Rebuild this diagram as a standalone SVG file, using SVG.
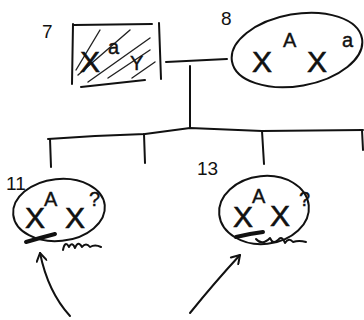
<svg xmlns="http://www.w3.org/2000/svg" width="364" height="320" viewBox="0 0 364 320">
  <style>
    .ln { fill: none; stroke: #111; stroke-width: 2; stroke-linecap: round; stroke-linejoin: round; }
    .thin { fill: none; stroke: #222; stroke-width: 1.4; stroke-linecap: round; }
    .scrib { fill: none; stroke: #111; stroke-width: 2; stroke-linecap: round; stroke-linejoin: round; }
    .thick { fill: none; stroke: #111; stroke-width: 4; stroke-linecap: round; }
    .big { font-family: "Liberation Sans", "DejaVu Sans", sans-serif; font-size: 30px; fill: #111; stroke: #111; stroke-width: 0.6; }
    .sup { font-family: "Liberation Sans", "DejaVu Sans", sans-serif; font-size: 20px; fill: #111; stroke: #111; stroke-width: 0.4; }
    .num { font-family: "Liberation Sans", "DejaVu Sans", sans-serif; font-size: 19px; fill: #111; }
  </style>
  <defs>
    <marker id="head" viewBox="0 0 12 12" refX="10" refY="6" markerWidth="12" markerHeight="12" markerUnits="userSpaceOnUse" orient="auto">
      <path d="M2,1 L10,6 L2,11" fill="none" stroke="#111" stroke-width="2" stroke-linecap="round" stroke-linejoin="round"/>
    </marker>
  </defs>
  <rect width="364" height="320" fill="#fff"/>

  <!-- pedigree lines -->
  <g id="connectors">
    <path class="ln" d="M166,62 L227,59"/>
    <path class="ln" d="M190,66 L190,128"/>
    <path class="ln" d="M48,139 L95,136 L145,134 L190,128 L262,131 L363,130"/>
    <path class="ln" d="M50,139 L51,167"/>
    <path class="ln" d="M144,134 L145,163"/>
    <path class="ln" d="M262,131 L264,164"/>
    <path class="ln" d="M362,130 L363,150"/>
    <path class="ln" d="M70,316 Q48,292 40,253" marker-end="url(#head)"/>
    <path class="ln" d="M190,313 Q215,282 240,255" marker-end="url(#head)"/>
  </g>

  <!-- individual 7: affected male -->
  <g id="node7">
    <text class="num" x="42" y="38">7</text>
    <path class="ln" d="M73,24 L72,84"/>
    <path class="ln" d="M74,25 L152,24"/>
    <path class="ln" d="M159,23 L161,79"/>
    <path class="ln" d="M81,87 L145,80"/>
    <path class="thin" d="M76,70 L100,30 M78,75 L130,30 M88,82 L150,38 M108,78 L150,50 M132,78 L155,62"/>
    <text class="big" x="80" y="72">X</text>
    <text class="sup" x="108" y="54">a</text>
    <text class="sup" x="130" y="70">Y</text>
  </g>

  <!-- individual 8: carrier female -->
  <g id="node8">
    <text class="num" x="221" y="25">8</text>
    <ellipse class="ln" cx="297" cy="50" rx="66" ry="36" transform="rotate(-10 297 50)"/>
    <text class="big" x="252" y="72">X</text>
    <text class="sup" x="283" y="47">A</text>
    <text class="big" x="307" y="72">X</text>
    <text class="sup" x="342" y="47">a</text>
  </g>

  <!-- individual 11 -->
  <g id="node11">
    <text class="num" x="6" y="190">11</text>
    <ellipse class="ln" cx="59" cy="210" rx="46" ry="31" transform="rotate(-6 59 210)"/>
    <text class="big" x="25" y="228">X</text>
    <text class="sup" x="44" y="206">A</text>
    <text class="big" x="65" y="228">X</text>
    <text class="sup" x="89" y="206">?</text>
    <path class="thick" d="M26,242 L40,238 L55,234"/>
    <path class="scrib" d="M63,250 Q65,240 69,247 Q72,241 75,248 Q78,240 82,247 Q86,242 90,247 Q95,244 101,247"/>
  </g>

  <!-- individual 13 -->
  <g id="node13">
    <text class="num" x="197" y="175">13</text>
    <ellipse class="ln" cx="264" cy="210" rx="45" ry="34" transform="rotate(-6 264 210)"/>
    <text class="big" x="233" y="227">X</text>
    <text class="sup" x="252" y="203">A</text>
    <text class="big" x="270" y="226">X</text>
    <text class="sup" x="299" y="206">?</text>
    <path class="thick" d="M236,237 L250,234 L263,232"/>
    <path class="scrib" d="M256,239 Q262,246 270,238 Q273,245 278,240 Q282,235 285,243 Q289,237 293,242 Q299,240 306,242"/>
  </g>
</svg>
